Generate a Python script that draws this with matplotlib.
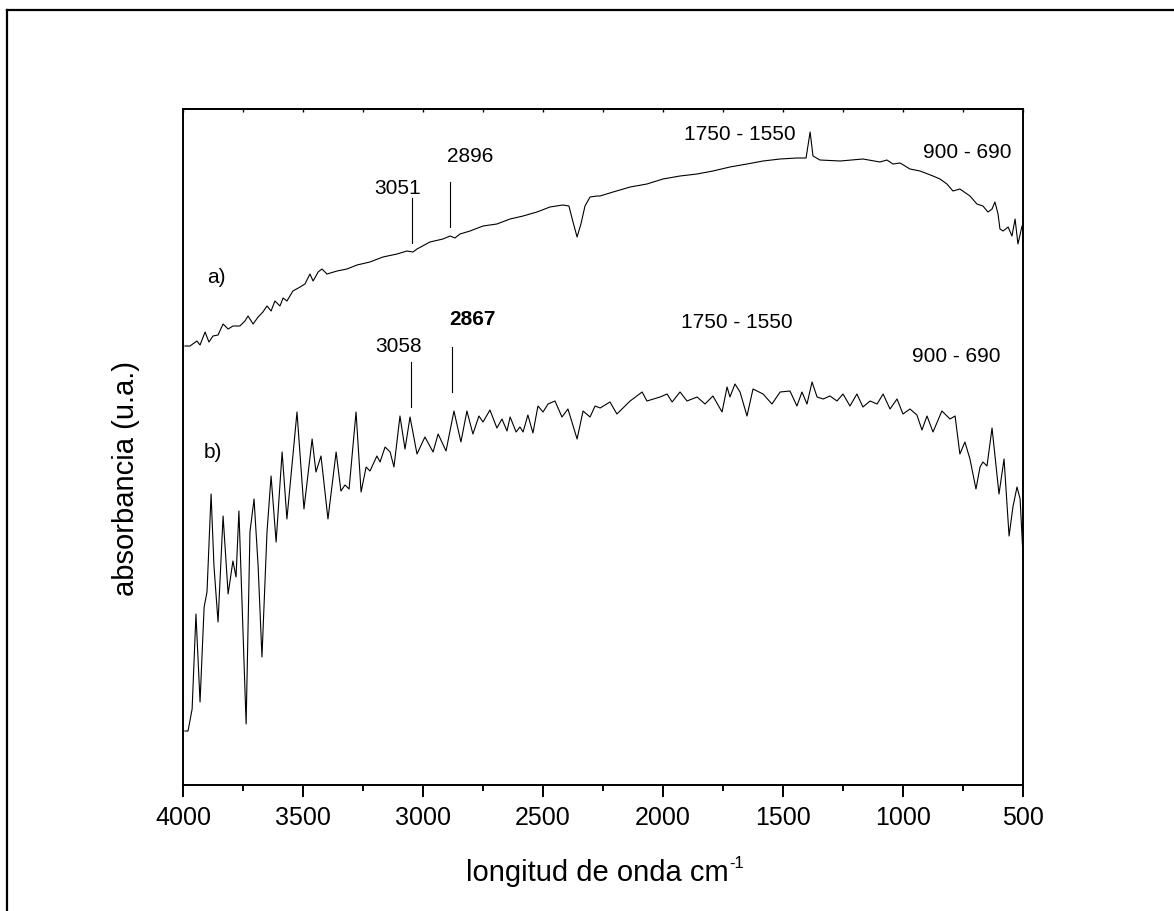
import matplotlib
matplotlib.use("Agg")
import matplotlib.pyplot as plt
from matplotlib.lines import Line2D
from matplotlib.ticker import MultipleLocator

plt.rcParams['font.family'] = ['Liberation Sans', 'DejaVu Sans']

# ---- data (wavenumber cm-1, absorbance a.u.) ----
wn_a = [3992, 3971, 3942, 3929, 3908, 3892, 3875, 3854, 3833, 3812, 3792, 3763, 3742, 3729,
        3708, 3687, 3667, 3650, 3633, 3617, 3596, 3583, 3567, 3542, 3512, 3492, 3471, 3458,
        3437, 3421, 3400, 3358, 3317, 3275, 3221, 3167, 3108, 3067, 3042, 3025, 2971, 2917,
        2887, 2867, 2846, 2804, 2750, 2692, 2637, 2583, 2525, 2471, 2417, 2392, 2375, 2358,
        2342, 2325, 2304, 2275, 2262, 2208, 2137, 2067, 2000, 1929, 1858, 1792, 1721, 1650,
        1583, 1512, 1442, 1404, 1387, 1375, 1346, 1262, 1167, 1096, 1067, 1042, 1012, 971,
        929, 875, 846, 817, 792, 763, 721, 692, 667, 646, 629, 617, 604, 596, 583, 562, 546,
        533, 521, 504]
abs_a = [4.39, 4.39, 4.44, 4.40, 4.53, 4.43, 4.49, 4.50, 4.61, 4.56, 4.59, 4.59, 4.64, 4.69,
         4.61, 4.68, 4.73, 4.79, 4.74, 4.84, 4.79, 4.87, 4.84, 4.94, 4.98, 5.01, 5.11, 5.04,
         5.13, 5.16, 5.11, 5.14, 5.16, 5.20, 5.23, 5.28, 5.31, 5.34, 5.33, 5.36, 5.43, 5.46,
         5.49, 5.47, 5.51, 5.54, 5.59, 5.61, 5.66, 5.69, 5.73, 5.78, 5.80, 5.79, 5.63, 5.48,
         5.61, 5.79, 5.88, 5.89, 5.89, 5.93, 5.98, 6.01, 6.06, 6.09, 6.11, 6.14, 6.18, 6.21,
         6.24, 6.26, 6.27, 6.27, 6.53, 6.29, 6.25, 6.24, 6.26, 6.23, 6.25, 6.21, 6.22, 6.16,
         6.14, 6.09, 6.06, 6.01, 5.94, 5.96, 5.89, 5.81, 5.79, 5.73, 5.76, 5.83, 5.71, 5.56,
         5.54, 5.58, 5.49, 5.66, 5.41, 5.59]

wn_b = [3992, 3979, 3962, 3946, 3929, 3912, 3900, 3883, 3871, 3854, 3833, 3812, 3792, 3779,
        3767, 3750, 3737, 3721, 3704, 3687, 3671, 3650, 3633, 3612, 3587, 3567, 3525, 3496,
        3462, 3446, 3425, 3396, 3362, 3342, 3325, 3308, 3279, 3258, 3237, 3221, 3192, 3179,
        3158, 3137, 3121, 3096, 3075, 3054, 3025, 2992, 2958, 2937, 2904, 2871, 2842, 2817,
        2792, 2767, 2750, 2721, 2692, 2671, 2650, 2637, 2612, 2596, 2583, 2563, 2542, 2521,
        2500, 2479, 2450, 2421, 2396, 2358, 2333, 2304, 2283, 2262, 2221, 2192, 2137, 2087,
        2067, 2012, 1983, 1962, 1929, 1900, 1858, 1825, 1792, 1754, 1733, 1721, 1700, 1679,
        1650, 1625, 1583, 1546, 1512, 1471, 1442, 1421, 1400, 1379, 1358, 1333, 1304, 1275,
        1250, 1221, 1192, 1167, 1137, 1108, 1083, 1054, 1025, 1000, 971, 942, 921, 900, 875,
        838, 804, 783, 763, 742, 721, 696, 679, 667, 650, 629, 600, 579, 558, 542, 525, 512,
        500]
abs_b = [0.54, 0.54, 0.76, 1.71, 0.83, 1.78, 1.93, 2.91, 2.19, 1.63, 2.69, 1.91, 2.24, 2.08,
         2.74, 1.53, 0.61, 2.53, 2.86, 2.19, 1.28, 2.53, 3.09, 2.43, 3.33, 2.66, 3.73, 2.76,
         3.46, 3.13, 3.29, 2.66, 3.33, 2.94, 3.00, 2.96, 3.73, 2.93, 3.18, 3.14, 3.29, 3.23,
         3.38, 3.33, 3.18, 3.69, 3.36, 3.68, 3.31, 3.48, 3.33, 3.51, 3.34, 3.74, 3.43, 3.74,
         3.51, 3.69, 3.63, 3.75, 3.57, 3.66, 3.54, 3.68, 3.53, 3.58, 3.53, 3.70, 3.52, 3.79,
         3.73, 3.81, 3.84, 3.68, 3.76, 3.46, 3.74, 3.68, 3.79, 3.77, 3.83, 3.71, 3.84, 3.93,
         3.84, 3.88, 3.91, 3.83, 3.93, 3.84, 3.88, 3.81, 3.89, 3.73, 3.98, 3.88, 4.01, 3.93,
         3.69, 3.96, 3.91, 3.81, 3.93, 3.94, 3.79, 3.93, 3.81, 4.03, 3.88, 3.86, 3.89, 3.84,
         3.91, 3.79, 3.91, 3.78, 3.84, 3.81, 3.91, 3.76, 3.86, 3.71, 3.76, 3.70, 3.55, 3.69,
         3.53, 3.74, 3.66, 3.69, 3.31, 3.43, 3.26, 2.96, 3.18, 3.23, 3.19, 3.57, 2.91, 3.26,
         2.49, 2.78, 2.98, 2.86, 2.29]

x_ticks = [4000, 3500, 3000, 2500, 2000, 1500, 1000, 500]

# annotations: (text, x, y, bold)
labels = [("3051", 3108, 5.97, False), ("2896", 2804, 6.30, False),
          ("1750 - 1550", 1679, 6.51, False), ("900 - 690", 733, 6.33, False),
          ("a)", 3862, 5.08, False),
          ("3058", 3100, 4.39, False), ("2867", 2796, 4.66, True),
          ("1750 - 1550", 1692, 4.64, False), ("900 - 690", 779, 4.29, False),
          ("b)", 3875, 3.33, False)]
# marker lines: (x, y_top, y_bottom)
markers = [(3046, 5.87, 5.42), (2888, 6.03, 5.58), (3050, 4.23, 3.78), (2879, 4.38, 3.93)]

W, H = 1174, 912
fig = plt.figure(figsize=(W / 100, H / 100), dpi=100)
ax = fig.add_axes([183 / W, 1 - 786 / H, (1023 - 183) / W, (786 - 110) / H])

ax.plot(wn_a, abs_a, color='black', lw=0.8)
ax.plot(wn_b, abs_b, color='black', lw=0.8)

for t, x, y, b in labels:
    ax.text(x, y, t, fontsize=15, ha='center', va='center',
            fontweight='bold' if b else 'normal')
for x, y1, y2 in markers:
    ax.plot([x, x], [y1, y2], color='black', lw=0.8)

ax.set_xlim(4000, 500)
ax.set_ylim(0, 6.76)
ax.set_xticks(x_ticks)
ax.set_xticklabels([str(v) for v in x_ticks])
ax.xaxis.set_minor_locator(MultipleLocator(250))
ax.set_yticks([])
ax.tick_params(axis='x', which='major', direction='out', length=8.6, width=1.4,
               labelsize=18, pad=6, top=False)
ax.tick_params(axis='x', which='minor', direction='out', length=4.3, width=1.4, top=False)
for s in ax.spines.values():
    s.set_linewidth(1.4)

# small inward ticks on top spine
axt = ax.secondary_xaxis('top')
axt.set_xticks(x_ticks)
axt.xaxis.set_minor_locator(MultipleLocator(250))
axt.tick_params(which='both', direction='in', length=2.5, width=1.0, labeltop=False)
axt.spines['top'].set_linewidth(1.4)

xl = fig.text(597 / W, 1 - 873 / H, 'longitud de onda cm', fontsize=21,
              ha='center', va='center')
fig.text(0, 0, '-1', fontsize=12, ha='left', va='top')  # placeholder replaced below
fig.texts[-1].remove()
ax.annotate('-1', xy=(1.0, 1.0), xycoords=xl, xytext=(0.5, 2), textcoords='offset points',
            fontsize=12, ha='left', va='top', annotation_clip=False)
fig.text(126 / W, 1 - 478 / H, 'absorbancia (u.a.)', fontsize=21, rotation=90,
         ha='center', va='center')

# outer frame (left and top edges)
fig.add_artist(Line2D([7 / W, 7 / W], [0, 1 - 11 / H], transform=fig.transFigure,
                      color='black', lw=1.6))
fig.add_artist(Line2D([7 / W, 1], [1 - 11 / H, 1 - 11 / H], transform=fig.transFigure,
                      color='black', lw=1.6))

fig.savefig('out.png', dpi=100)
